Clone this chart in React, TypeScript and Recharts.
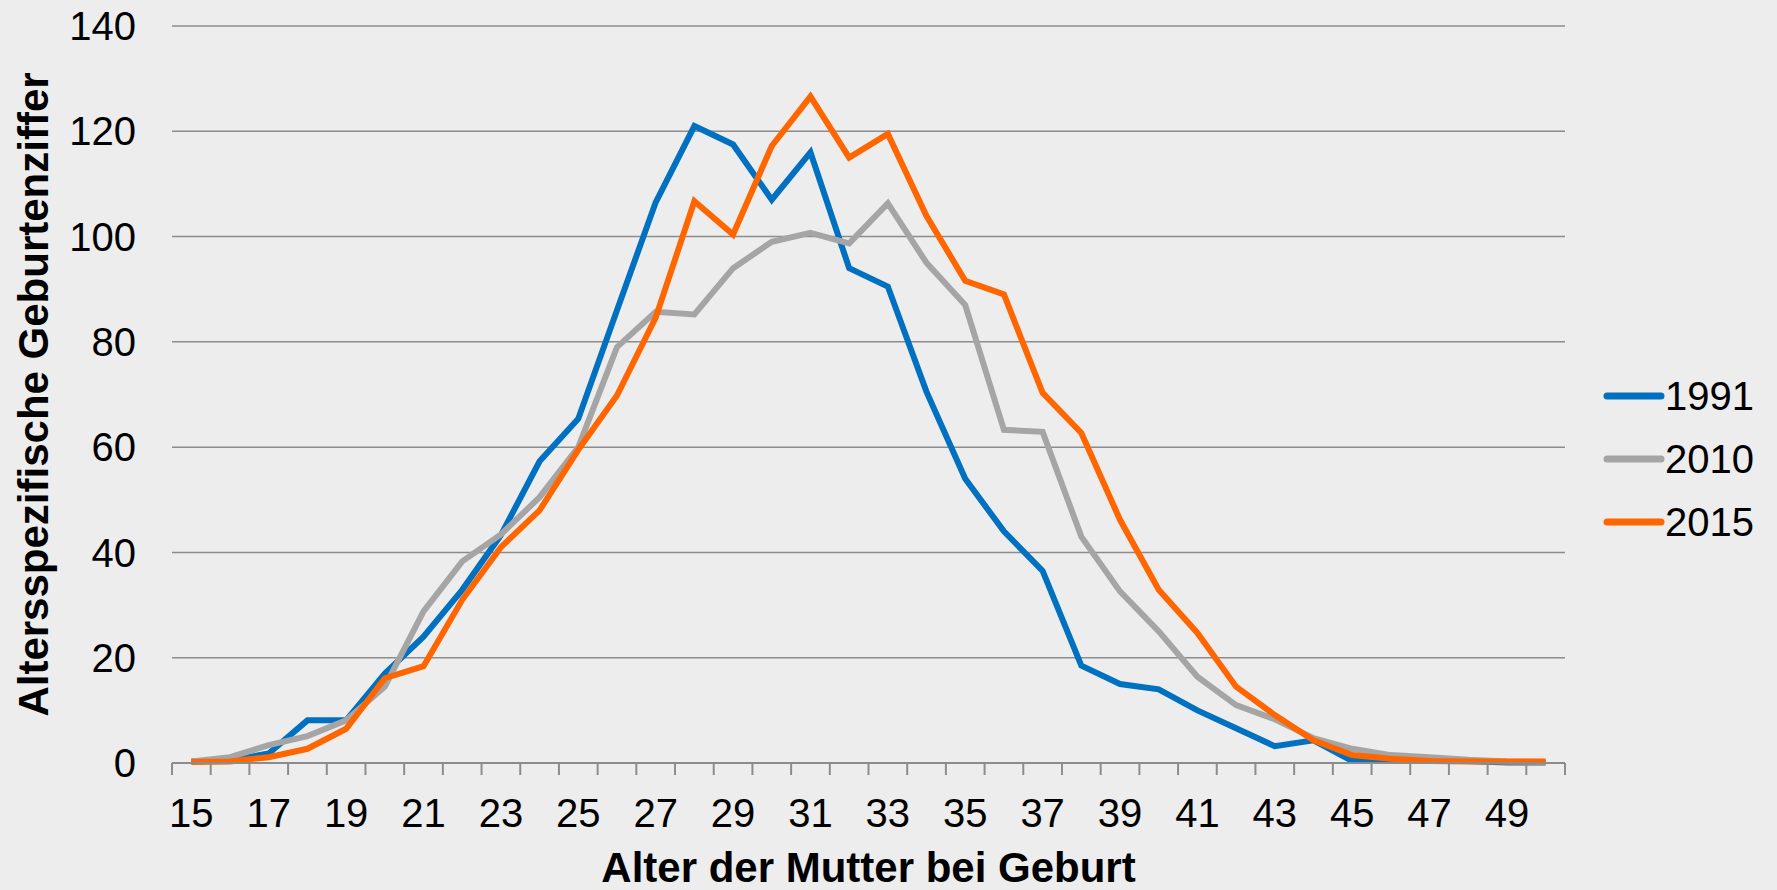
import React from 'react';
import { LineChart, Line, XAxis, YAxis, CartesianGrid, Legend } from 'recharts';

const ages = [15, 16, 17, 18, 19, 20, 21, 22, 23, 24, 25, 26, 27, 28, 29, 30, 31, 32, 33, 34, 35, 36, 37, 38, 39, 40, 41, 42, 43, 44, 45, 46, 47, 48, 49, 50];
const v1991 = [0.3, 0.5, 1.8, 8.1, 8.1, 17, 24, 32.9, 43.3, 57.3, 65.4, 86, 106.5, 121, 117.5, 107, 116, 94, 90.5, 70.5, 54, 44, 36.5, 18.5, 15, 14, 10, 6.6, 3.2, 4.3, 0.4, 0.6, 0.9, 0.4, 0.1, 0.1];
const v2010 = [0.3, 1.1, 3.4, 5.1, 8.1, 14.5, 28.8, 38.3, 43.4, 50.5, 60, 79, 85.7, 85.2, 94, 99, 100.7, 98.7, 106.3, 95, 87, 63.3, 62.9, 43, 32.6, 25, 16.4, 11, 8.3, 4.7, 2.7, 1.5, 1.1, 0.6, 0.3, 0.2];
const v2015 = [0.2, 0.3, 1.1, 2.7, 6.5, 16.1, 18.4, 31, 41, 48, 59.5, 69.8, 84.6, 106.7, 100.4, 117.2, 126.6, 115, 119.5, 103.9, 91.6, 89, 70.3, 62.7, 46.2, 32.9, 24.7, 14.5, 9.1, 4.3, 1.5, 0.8, 0.4, 0.3, 0.3, 0.3];
const seriesNames = ['1991', '2010', '2015'];
const seriesColors = ['#0070C0', '#A5A5A5', '#FF6600'];
const yTicks = [0, 20, 40, 60, 80, 100, 120, 140];
const boundaryTicks = ages.map((_, i) => i).concat([ages.length]);

const data = ages.map((a, i) => ({
  i,
  age: a,
  '1991': v1991[i],
  '2010': v2010[i],
  '2015': v2015[i],
}));

const FONT = '"Liberation Sans", Arial, Helvetica, sans-serif';
const GRID = '#8C8C8C';

const YTitle = (props: any) => {
  const vb = props.viewBox || {};
  const x = (vb.x || 0) + 48;
  const y = (vb.y || 0) + (vb.height || 0) / 2;
  return (
    <text
      x={x}
      y={y}
      transform={`rotate(-90, ${x}, ${y})`}
      textAnchor="middle"
      fontFamily={FONT}
      fontWeight="bold"
      fontSize={42}
      fill="#000"
    >
      Altersspezifische Geburtenziffer
    </text>
  );
};

const LegendContent = (props: any) => {
  const payload = props.payload || [];
  return (
    <div style={{ fontFamily: FONT }}>
      {payload.map((p: any) => (
        <div key={p.value} style={{ height: 63, display: 'flex', alignItems: 'center' }}>
          <svg width={62} height={12} style={{ display: 'block' }}>
            <line x1={4} y1={6} x2={58} y2={6} stroke={p.color} strokeWidth={7} strokeLinecap="round" />
          </svg>
          <span style={{ fontSize: 40, lineHeight: '40px', color: '#000' }}>{p.value}</span>
        </div>
      ))}
    </div>
  );
};

const EmptyTick = () => <g />;

export default function App() {
  return (
    <div style={{ position: 'fixed', left: 0, top: 0, width: 1777, height: 890, background: '#EDEDED' }}>
      <LineChart
        width={1777}
        height={890}
        data={data}
        margin={{ top: 26, right: 212, bottom: 0, left: 0 }}
        style={{ fontFamily: FONT }}
      >
        <CartesianGrid horizontal={true} vertical={false} stroke={GRID} strokeWidth={1.5} />
        <XAxis
          xAxisId={0}
          type="number"
          dataKey="i"
          domain={[0, ages.length]}
          allowDataOverflow
          ticks={boundaryTicks}
          interval={0}
          tick={<EmptyTick />}
          tickSize={12}
          tickLine={{ stroke: GRID, strokeWidth: 2 }}
          axisLine={{ stroke: GRID, strokeWidth: 2 }}
          height={1}
        />
        <XAxis
          xAxisId="cat"
          type="category"
          scale="band"
          dataKey="age"
          interval={1}
          axisLine={false}
          tickLine={false}
          tickSize={6}
          tickMargin={29}
          height={126}
          tick={{ fontSize: 40, fill: '#000', fontFamily: FONT }}
          label={{
            value: 'Alter der Mutter bei Geburt',
            position: 'insideBottom',
            offset: 8,
            style: { fontSize: 42, fontWeight: 'bold', fill: '#000', fontFamily: FONT },
          }}
        />
        <YAxis
          width={172}
          domain={[0, 140]}
          ticks={yTicks}
          interval={0}
          axisLine={false}
          tickLine={false}
          tickSize={0}
          tickMargin={36}
          tick={{ fontSize: 40, fill: '#000', fontFamily: FONT }}
          label={<YTitle />}
        />
        <Legend
          layout="horizontal"
          verticalAlign="middle"
          align="center"
          content={<LegendContent />}
          wrapperStyle={{ left: 1603, top: 364, width: 174, height: 189 }}
        />
        {seriesNames.map((n, k) => (
          <Line
            key={n}
            xAxisId="cat"
            type="linear"
            dataKey={n}
            name={n}
            stroke={seriesColors[k]}
            strokeWidth={6}
            dot={false}
            activeDot={false}
            isAnimationActive={false}
          />
        ))}
      </LineChart>
    </div>
  );
}
